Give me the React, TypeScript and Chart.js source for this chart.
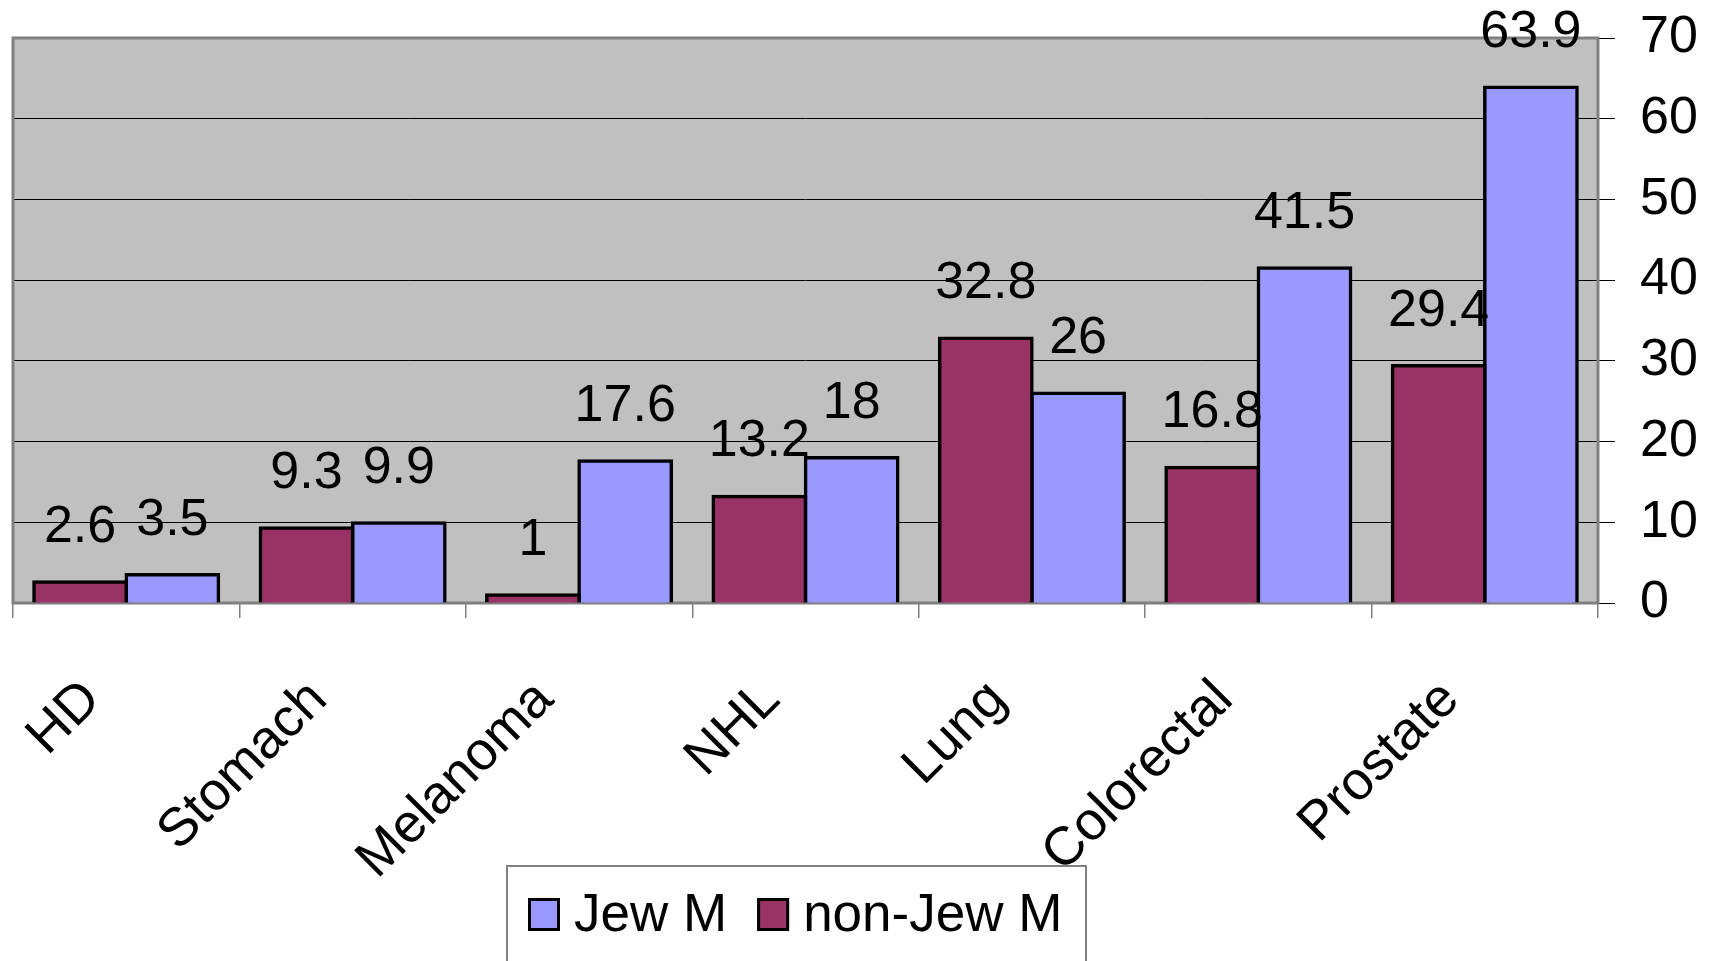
import React, { useEffect, useRef } from "react";
import { Chart, registerables } from "chart.js";

Chart.register(...registerables);

const categories = ["HD", "Stomach", "Melanoma", "NHL", "Lung", "Colorectal", "Prostate"];
const nonJewM = [2.6, 9.3, 1, 13.2, 32.8, 16.8, 29.4];
const jewM = [3.5, 9.9, 17.6, 18, 26, 41.5, 63.9];
const seriesLabels = ["non-Jew M", "Jew M"];
const seriesColors = ["#993366", "#9999FF"];
const yMin = 0;
const yMax = 70;
const yStep = 10;

const FONT = '"Liberation Sans", Arial, Helvetica, sans-serif';
const FONT_SIZE = 52;

const plotFrame = {
  id: "plotFrame",
  beforeDraw(chart: any) {
    const { ctx, chartArea: a } = chart;
    ctx.save();
    ctx.fillStyle = "#C0C0C0";
    ctx.fillRect(a.left, a.top, a.right - a.left, a.bottom - a.top);
    ctx.restore();
  },
  beforeDatasetsDraw(chart: any) {
    const { ctx, chartArea: a } = chart;
    ctx.save();
    ctx.strokeStyle = "#808080";
    ctx.lineWidth = 3;
    ctx.strokeRect(a.left, a.top, a.right - a.left, a.bottom - a.top);
    ctx.restore();
  },
};

const valueLabels = {
  id: "valueLabels",
  afterDatasetsDraw(chart: any) {
    const { ctx } = chart;
    ctx.save();
    ctx.font = `${FONT_SIZE}px ${FONT}`;
    ctx.fillStyle = "#000";
    ctx.textAlign = "center";
    ctx.textBaseline = "alphabetic";
    chart.data.datasets.forEach((ds: any, i: number) => {
      const meta = chart.getDatasetMeta(i);
      meta.data.forEach((bar: any, j: number) => {
        ctx.fillText(String(ds.data[j]), bar.x, bar.y - 40);
      });
    });
    ctx.restore();
  },
};

const boxedLegend = {
  id: "boxedLegend",
  afterDraw(chart: any) {
    const { ctx } = chart;
    const boxLeft = 507;
    const boxRight = 1086;
    const boxTop = 866;
    ctx.save();
    ctx.fillStyle = "#fff";
    ctx.fillRect(boxLeft, boxTop, boxRight - boxLeft, chart.height - boxTop + 10);
    ctx.strokeStyle = "#808080";
    ctx.lineWidth = 2;
    ctx.strokeRect(boxLeft, boxTop, boxRight - boxLeft, chart.height - boxTop + 10);
    ctx.font = `53px ${FONT}`;
    ctx.textBaseline = "alphabetic";
    ctx.textAlign = "left";
    const items = chart.data.datasets.map((d: any) => ({ label: d.label, color: d.backgroundColor })).reverse();
    let x = 528;
    const sw = 32;
    const swTop = 898;
    const baseline = 931;
    items.forEach((it: any) => {
      ctx.fillStyle = it.color;
      ctx.fillRect(x, swTop, sw, sw + 1);
      ctx.strokeStyle = "#000";
      ctx.lineWidth = 3;
      ctx.strokeRect(x + 1.5, swTop + 1.5, sw - 3, sw - 2);
      ctx.fillStyle = "#000";
      ctx.fillText(it.label, x + sw + 14, baseline);
      x += sw + 14 + ctx.measureText(it.label).width + 30;
    });
    ctx.restore();
  },
};

export default function App() {
  const canvasRef = useRef<HTMLCanvasElement | null>(null);

  useEffect(() => {
    if (!canvasRef.current) return;
    const chart = new Chart(canvasRef.current, {
      type: "bar",
      data: {
        labels: categories,
        datasets: [
          {
            label: seriesLabels[0],
            data: nonJewM,
            backgroundColor: seriesColors[0],
            borderColor: "#000",
            borderWidth: 3.5,
            inflateAmount: 1.75,
            categoryPercentage: 0.815,
            barPercentage: 1,
          },
          {
            label: seriesLabels[1],
            data: jewM,
            backgroundColor: seriesColors[1],
            borderColor: "#000",
            borderWidth: 3.5,
            inflateAmount: 1.75,
            categoryPercentage: 0.815,
            barPercentage: 1,
          },
        ],
      } as any,
      options: {
        animation: false,
        responsive: false,
        maintainAspectRatio: false,
        layout: { padding: { left: 13, top: 38, right: 0, bottom: 80 } },
        plugins: {
          legend: { display: false },
          tooltip: { enabled: false },
        },
        scales: {
          x: {
            offset: true,
            grid: {
              offset: true,
              drawOnChartArea: false,
              tickLength: 15,
              color: "#808080",
              lineWidth: 1.5,
            },
            border: { display: false },
            ticks: {
              autoSkip: false,
              minRotation: 45,
              maxRotation: 45,
              padding: 50,
              labelOffset: -34,
              color: "#000",
              font: { family: FONT, size: 54 },
            },
            afterFit: (scale: any) => {
              scale.height = 278;
              scale.paddingLeft = 0;
              scale.paddingRight = 0;
            },
          },
          y: {
            position: "right",
            min: yMin,
            max: yMax,
            grid: {
              color: "#000",
              lineWidth: 1,
              tickLength: 17,
            },
            border: { display: false },
            ticks: {
              stepSize: yStep,
              padding: 25,
              color: "#000",
              font: { family: FONT, size: FONT_SIZE },
            },
            afterFit: (scale: any) => {
              scale.width = 112;
              scale.paddingTop = 0;
              scale.paddingBottom = 0;
            },
          },
        },
      } as any,
      plugins: [plotFrame, valueLabels, boxedLegend],
    });
    return () => chart.destroy();
  }, []);

  return (
    <div style={{ position: "absolute", left: 0, top: 0, width: 1710, height: 961, background: "#fff" }}>
      <canvas ref={canvasRef} width={1710} height={961} style={{ display: "block", width: 1710, height: 961 }} />
    </div>
  );
}
